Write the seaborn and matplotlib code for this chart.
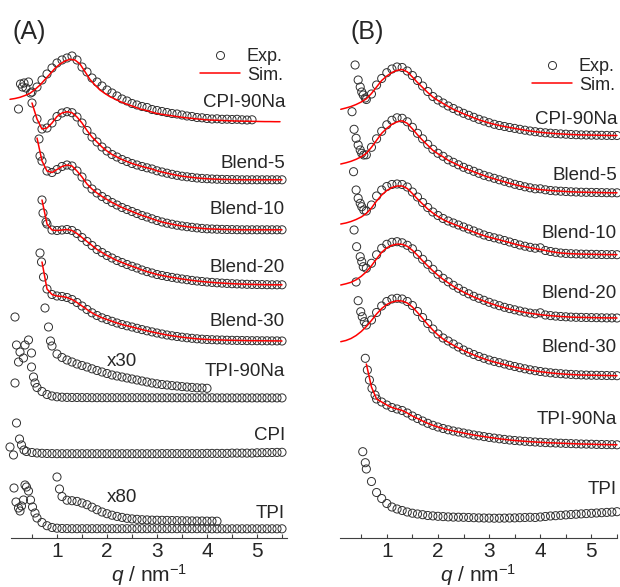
import numpy as np
import matplotlib
matplotlib.use("Agg")
import matplotlib.pyplot as plt
import seaborn as sns
from matplotlib.lines import Line2D
from matplotlib.ticker import MultipleLocator

# SAXS profiles, intensity in arbitrary units, stacked with vertical offsets.
# Tabulated points are spaced STEP apart in q, starting at the given q0.
STEP = 0.1

# ---------------- panel (A) ----------------
a_names = ["CPI-90Na", "Blend-5", "Blend-10", "Blend-20", "Blend-30", "TPI-90Na", "CPI", "TPI"]
a_offsets = [41.6, 35.8, 30.8, 25.3, 19.7, 14.0, 8.4, 0.9]
a_label_y = [43.55, 37.4, 32.8, 27.0, 21.7, 16.7, 10.3, 2.4]

a_cpi90na_q0 = 0.5
a_cpi90na = [3.0, 3.5, 4.2, 4.8, 5.4, 5.9, 6.2, 6.4, 6.6, 6.2, 5.5, 5.0, 4.4, 4.0, 3.6, 3.2,
             2.9, 2.6, 2.3, 2.1, 1.85, 1.7, 1.55, 1.45, 1.25, 1.15, 1.05, 0.95, 0.85, 0.8,
             0.7, 0.6, 0.55, 0.45, 0.42, 0.35, 0.3, 0.32, 0.27, 0.28, 0.25, 0.27, 0.22, 0.2, 0.22]
a_cpi90na_low_q = [0.23, 0.27, 0.31, 0.34, 0.38, 0.43, 0.47]
a_cpi90na_low_i = [1.3, 3.8, 3.5, 3.9, 3.4, 4.0, 2.9]
a_cpi90na_sim_q0 = 0.06
a_cpi90na_sim = [2.27, 2.35, 2.47, 2.65, 2.87, 3.25, 3.7, 4.25, 4.8, 5.37, 5.8, 6.1, 6.27, 6.2,
                 5.8, 5.03, 4.25, 3.7, 3.2, 2.85, 2.53, 2.3, 2.05, 1.85, 1.67, 1.5, 1.3, 1.2,
                 1.05, 0.9, 0.8, 0.72, 0.65, 0.57, 0.5, 0.43, 0.38, 0.33, 0.28, 0.23, 0.2, 0.18,
                 0.16, 0.14, 0.12, 0.1, 0.09, 0.08, 0.07, 0.06, 0.05, 0.04, 0.04, 0.03, 0.03]

a_blend5_q0 = 0.5
a_blend5 = [7.7, 6.1, 5.1, 5.2, 5.7, 6.35, 6.7, 6.83, 6.73, 6.3, 5.7, 4.95, 4.3, 3.8, 3.3, 2.9,
            2.55, 2.3, 2.05, 1.85, 1.65, 1.5, 1.35, 1.22, 1.1, 0.92, 0.8, 0.68, 0.57, 0.47,
            0.38, 0.32, 0.26, 0.2, 0.16, 0.13, 0.1, 0.08, 0.06, 0.05, 0.04, 0.03, 0.02, 0.02,
            0.02, 0.02, 0.02, 0.02, 0.02, 0.02, 0.02]
a_blend5_sim_q0 = 0.5
a_blend5_sim = [7.7, 6.1, 5.1, 5.2, 5.7, 6.35, 6.7, 6.83, 6.73, 6.3, 5.7, 4.95, 4.3, 3.8, 3.3, 2.9,
                2.55, 2.3, 2.05, 1.85, 1.65, 1.5, 1.35, 1.22, 1.1, 0.92, 0.8, 0.68, 0.57, 0.47,
                0.38, 0.32, 0.26, 0.2, 0.16, 0.13, 0.1, 0.08, 0.06, 0.05, 0.04, 0.03, 0.02, 0.02,
                0.02, 0.02, 0.02, 0.02, 0.02, 0.02, 0.02]

a_blend10_q0 = 0.7
a_blend10 = [6.9, 5.9, 5.75, 6.05, 6.35, 6.5, 6.4, 5.9, 5.3, 4.6, 4.1, 3.7, 3.35, 3.05, 2.75,
             2.5, 2.25, 2.05, 1.85, 1.65, 1.45, 1.3, 1.12, 0.95, 0.8, 0.68, 0.58, 0.48, 0.4,
             0.33, 0.27, 0.21, 0.16, 0.12, 0.1, 0.08, 0.06, 0.05, 0.04, 0.03, 0.02, 0.02, 0.02,
             0.02, 0.02, 0.02, 0.02, 0.02, 0.02]
a_blend10_low_q = [0.64, 0.66]
a_blend10_low_i = [9.1, 7.4]
a_blend10_sim_q0 = 0.6
a_blend10_sim = [9.2, 6.9, 5.9, 5.75, 6.05, 6.35, 6.5, 6.4, 5.9, 5.3, 4.6, 4.1, 3.7, 3.35, 3.05,
                 2.75, 2.5, 2.25, 2.05, 1.85, 1.65, 1.45, 1.3, 1.12, 0.95, 0.8, 0.68, 0.58, 0.48,
                 0.4, 0.33, 0.27, 0.21, 0.16, 0.12, 0.1, 0.08, 0.06, 0.05, 0.04, 0.03, 0.02,
                 0.02, 0.02, 0.02, 0.02, 0.02, 0.02, 0.02, 0.02]

a_blend20_q0 = 0.7
a_blend20 = [8.5, 6.1, 5.5, 5.45, 5.5, 5.55, 5.45, 5.15, 4.75, 4.35, 3.95, 3.55, 3.25, 2.95,
             2.7, 2.45, 2.25, 2.05, 1.87, 1.7, 1.5, 1.34, 1.2, 1.05, 0.95, 0.85, 0.76, 0.68,
             0.6, 0.53, 0.46, 0.4, 0.35, 0.3, 0.26, 0.22, 0.19, 0.16, 0.13, 0.11, 0.09, 0.07,
             0.06, 0.05, 0.04, 0.03, 0.02, 0.02, 0.02]
a_blend20_low_q = [0.72, 0.78]
a_blend20_low_i = [7.2, 6.3]
a_blend20_sim_q0 = 0.7
a_blend20_sim = [8.5, 6.1, 5.5, 5.45, 5.5, 5.55, 5.45, 5.15, 4.75, 4.35, 3.95, 3.55, 3.25, 2.95,
                 2.7, 2.45, 2.25, 2.05, 1.87, 1.7, 1.5, 1.34, 1.2, 1.05, 0.95, 0.85, 0.76, 0.68,
                 0.6, 0.53, 0.46, 0.4, 0.35, 0.3, 0.26, 0.22, 0.19, 0.16, 0.13, 0.11, 0.09, 0.07,
                 0.06, 0.05, 0.04, 0.03, 0.02, 0.02, 0.02]

a_blend30_q0 = 0.8
a_blend30 = [5.2, 4.65, 4.5, 4.45, 4.35, 4.15, 3.85, 3.5, 3.15, 2.82, 2.55, 2.32, 2.15, 1.97, 1.8,
             1.65, 1.52, 1.4, 1.27, 1.14, 1.02, 0.91, 0.8, 0.7, 0.6, 0.52, 0.45, 0.38, 0.32,
             0.27, 0.22, 0.18, 0.15, 0.13, 0.11, 0.1, 0.08, 0.07, 0.06, 0.05, 0.04, 0.03, 0.03,
             0.02, 0.02, 0.01, 0.01, 0.0]
a_blend30_low_q = [0.66, 0.69, 0.73]
a_blend30_low_i = [8.8, 7.9, 6.4]
a_blend30_sim_q0 = 0.7
a_blend30_sim = [7.9, 5.2, 4.65, 4.5, 4.45, 4.35, 4.15, 3.85, 3.5, 3.15, 2.82, 2.55, 2.32, 2.15,
                 1.97, 1.8, 1.65, 1.52, 1.4, 1.27, 1.14, 1.02, 0.91, 0.8, 0.7, 0.6, 0.52, 0.45,
                 0.38, 0.32, 0.27, 0.22, 0.18, 0.15, 0.13, 0.11, 0.1, 0.08, 0.07, 0.06, 0.05,
                 0.04, 0.03, 0.03, 0.02, 0.02, 0.01, 0.01, 0.0]

a_tpi90na_q0 = 0.6
a_tpi90na = [1.05, 0.65, 0.35, 0.2, 0.12, 0.08, 0.06, 0.05, 0.05, 0.04, 0.04, 0.03, 0.03, 0.03,
             0.03, 0.03, 0.03, 0.03, 0.03, 0.03, 0.03, 0.03, 0.02, 0.02, 0.02, 0.02, 0.02, 0.02,
             0.02, 0.02, 0.02, 0.02, 0.02, 0.02, 0.02, 0.02, 0.01, 0.01, 0.01, 0.01, 0.01, 0.01,
             0.01, 0.01, 0.01, 0.01, 0.01, 0.01, 0.01, 0.01]
a_tpi90na_low_q = [0.16, 0.19, 0.23, 0.26, 0.33, 0.36, 0.43, 0.49, 0.49, 0.16, 0.53, 0.56]
a_tpi90na_low_i = [8.1, 5.3, 3.6, 4.6, 4.0, 5.3, 5.8, 4.5, 3.1, 1.5, 2.1, 1.5]
# TPI-90Na multiplied by 30
a_tpi90na_x30_q0 = 0.9
a_tpi90na_x30 = [5.2, 4.4, 4.05, 3.8, 3.6, 3.4, 3.25, 3.1, 2.92, 2.75, 2.6, 2.45, 2.3, 2.2, 2.1,
                 2.0, 1.9, 1.8, 1.7, 1.6, 1.5, 1.42, 1.35, 1.3, 1.24, 1.2, 1.14, 1.1, 1.06, 1.02,
                 1.0, 0.97]
a_tpi90na_x30_low_q = [0.76, 0.83, 0.87]
a_tpi90na_x30_low_i = [9.0, 7.1, 5.7]

a_cpi_q0 = 0.5
a_cpi = [0.15, 0.1, 0.07, 0.05, 0.04, 0.03, 0.03, 0.03, 0.03, 0.03, 0.03, 0.03, 0.03, 0.03, 0.03,
         0.03, 0.03, 0.03, 0.03, 0.03, 0.03, 0.03, 0.03, 0.03, 0.03, 0.03, 0.04, 0.04, 0.04,
         0.04, 0.04, 0.04, 0.04, 0.04, 0.04, 0.06, 0.06, 0.06, 0.06, 0.06, 0.09, 0.09, 0.09,
         0.09, 0.09, 0.12, 0.13, 0.14, 0.15, 0.16, 0.17]
a_cpi_low_q = [0.06, 0.13, 0.19, 0.25, 0.29, 0.34, 0.39]
a_cpi_low_i = [0.7, -0.1, 3.1, 1.5, 0.9, 0.4, 0.25]

a_tpi_q0 = 0.6
a_tpi = [1.1, 0.65, 0.33, 0.15, 0.08, 0.05, 0.04, 0.03, 0.03, 0.03, 0.03, 0.03, 0.03, 0.03, 0.03,
         0.03, 0.03, 0.03, 0.03, 0.03, 0.03, 0.03, 0.03, 0.03, 0.03, 0.03, 0.03, 0.03, 0.03,
         0.03, 0.03, 0.03, 0.03, 0.03, 0.02, 0.02, 0.02, 0.02, 0.02, 0.02, 0.02, 0.02, 0.02,
         0.02, 0.02, 0.02, 0.02, 0.02, 0.02, 0.02]
a_tpi_low_q = [0.14, 0.18, 0.23, 0.26, 0.29, 0.33, 0.36, 0.39, 0.43, 0.47, 0.51, 0.56]
a_tpi_low_i = [4.1, 2.7, 2.1, 1.8, 2.3, 2.9, 4.4, 4.2, 3.8, 2.9, 2.2, 1.6]
# TPI multiplied by 80
a_tpi_x80_q0 = 1.0
a_tpi_x80 = [5.2, 3.25, 2.88, 2.83, 2.76, 2.6, 2.43, 2.18, 1.93, 1.7, 1.53, 1.38, 1.26, 1.16,
             1.07, 1.01, 0.97, 0.93, 0.91, 0.89, 0.88, 0.87, 0.86, 0.85, 0.84, 0.83, 0.82, 0.81,
             0.8, 0.8, 0.79, 0.79, 0.78]
a_tpi_x80_low_q = [1.05]
a_tpi_x80_low_i = [4.0]

# ---------------- panel (B) ----------------
b_names = ["CPI-90Na", "Blend-5", "Blend-10", "Blend-20", "Blend-30", "TPI-90Na", "TPI"]
b_offsets = [40.2, 34.47, 28.3, 21.97, 16.2, 9.3, 1.95]
b_label_y = [41.8, 36.3, 30.5, 24.5, 19.1, 11.8, 4.8]

b_cpi90na_q0 = 0.6
b_cpi90na = [3.65, 4.2, 5.1, 5.75, 6.33, 6.7, 6.9, 6.85, 6.5, 6.05, 5.55, 5.0, 4.45, 3.95, 3.6,
             3.3, 3.0, 2.75, 2.5, 2.27, 2.07, 1.87, 1.67, 1.5, 1.33, 1.17, 1.05, 0.95, 0.85,
             0.76, 0.67, 0.58, 0.5, 0.43, 0.37, 0.32, 0.28, 0.24, 0.21, 0.18, 0.15, 0.13, 0.11,
             0.1, 0.09, 0.08, 0.07, 0.06, 0.05, 0.05]
b_cpi90na_low_q = [0.38, 0.44, 0.48, 0.51, 0.54, 0.58]
b_cpi90na_low_i = [7.1, 5.6, 4.9, 4.4, 4.1, 3.8]
b_cpi90na_sim_q0 = 0.1
b_cpi90na_sim = [2.67, 2.8, 2.95, 3.15, 3.4, 3.72, 4.25, 4.9, 5.55, 6.0, 6.35, 6.57, 6.65, 6.42,
                 5.9, 5.35, 4.85, 4.35, 3.9, 3.55, 3.25, 2.95, 2.67, 2.45, 2.22, 2.02, 1.82,
                 1.62, 1.46, 1.3, 1.17, 1.05, 0.95, 0.85, 0.76, 0.67, 0.58, 0.5, 0.43, 0.37, 0.32,
                 0.28, 0.24, 0.21, 0.18, 0.15, 0.13, 0.11, 0.1, 0.09, 0.08, 0.07, 0.06, 0.05, 0.05]

b_blend5_q0 = 0.6
b_blend5 = [3.85, 4.6, 5.45, 6.2, 6.85, 7.3, 7.55, 7.5, 7.15, 6.6, 6.0, 5.45, 4.9, 4.4, 4.0, 3.7,
            3.35, 3.1, 2.85, 2.6, 2.4, 2.2, 2.0, 1.8, 1.65, 1.5, 1.35, 1.2, 1.05, 0.9, 0.78, 0.65,
            0.55, 0.45, 0.45, 0.35, 0.28, 0.24, 0.21, 0.18, 0.15, 0.13, 0.11, 0.1, 0.09, 0.08,
            0.07, 0.06, 0.05, 0.05]
b_blend5_low_q = [0.32, 0.36, 0.40, 0.44, 0.48, 0.51, 0.55]
b_blend5_low_i = [8.16, 6.4, 5.5, 4.83, 4.33, 4.0, 3.83]
b_blend5_sim_q0 = 0.1
b_blend5_sim = [2.93, 3.05, 3.2, 3.4, 3.65, 4.0, 4.6, 5.3, 6.0, 6.5, 6.9, 7.15, 7.25, 7.0, 6.45,
                5.85, 5.3, 4.8, 4.3, 3.95, 3.65, 3.3, 3.05, 2.8, 2.55, 2.35, 2.15, 1.95, 1.77, 1.6,
                1.45, 1.3, 1.15, 1.0, 0.87, 0.75, 0.63, 0.53, 0.44, 0.37, 0.32, 0.28, 0.24, 0.21,
                0.18, 0.15, 0.13, 0.11, 0.1, 0.09, 0.08, 0.07, 0.06, 0.05, 0.05]

b_blend10_q0 = 0.6
b_blend10 = [4.4, 5.0, 5.9, 6.5, 6.85, 7.05, 7.1, 7.05, 6.8, 6.3, 5.8, 5.25, 4.75, 4.3, 3.95, 3.65,
             3.4, 3.2, 3.0, 2.8, 2.6, 2.4, 2.2, 2.0, 1.85, 1.72, 1.6, 1.45, 1.3, 1.15, 1.0, 0.88,
             0.77, 0.68, 0.72, 0.45, 0.35, 0.27, 0.2, 0.16, 0.13, 0.11, 0.09, 0.08, 0.07, 0.06,
             0.05, 0.04, 0.04, 0.03]
b_blend10_low_q = [0.35, 0.40, 0.44, 0.48, 0.51, 0.55]
b_blend10_low_i = [8.33, 6.5, 5.67, 5.17, 4.83, 4.5]
b_blend10_sim_q0 = 0.1
b_blend10_sim = [3.1, 3.2, 3.35, 3.55, 3.8, 4.15, 4.7, 5.4, 6.0, 6.45, 6.75, 6.9, 6.9, 6.65, 6.15,
                 5.6, 5.1, 4.6, 4.2, 3.85, 3.55, 3.3, 3.1, 2.9, 2.7, 2.5, 2.3, 2.1, 1.93, 1.78,
                 1.65, 1.52, 1.38, 1.24, 1.1, 0.97, 0.85, 0.74, 0.64, 0.55, 0.45, 0.35, 0.27, 0.2,
                 0.16, 0.13, 0.11, 0.09, 0.08, 0.07, 0.06, 0.05, 0.04, 0.04, 0.03]

b_blend20_q0 = 0.6
b_blend20 = [5.0, 5.5, 6.35, 7.0, 7.4, 7.6, 7.66, 7.55, 7.3, 6.95, 6.4, 5.9, 5.4, 4.9, 4.4, 4.0,
             3.65, 3.3, 3.0, 2.7, 2.45, 2.2, 2.0, 1.8, 1.6, 1.42, 1.26, 1.1, 0.97, 0.85, 0.73,
             0.62, 0.52, 0.45, 0.55, 0.33, 0.27, 0.22, 0.18, 0.15, 0.12, 0.1, 0.09, 0.08, 0.07,
             0.06, 0.05, 0.04, 0.04, 0.03]
b_blend20_low_q = [0.36, 0.41, 0.48, 0.51, 0.54]
b_blend20_low_i = [8.83, 7.16, 6.16, 5.66, 5.16]
b_blend20_sim_q0 = 0.1
b_blend20_sim = [3.33, 3.45, 3.6, 3.85, 4.2, 4.65, 5.25, 5.95, 6.6, 7.05, 7.3, 7.42, 7.4, 7.2, 6.8,
                 6.3, 5.75, 5.25, 4.75, 4.3, 3.9, 3.55, 3.2, 2.9, 2.62, 2.37, 2.13, 1.92, 1.72,
                 1.53, 1.36, 1.2, 1.05, 0.92, 0.8, 0.69, 0.59, 0.5, 0.43, 0.36, 0.31, 0.26, 0.22,
                 0.18, 0.15, 0.12, 0.1, 0.09, 0.08, 0.07, 0.06, 0.05, 0.04, 0.04, 0.03]

b_blend30_q0 = 0.6
b_blend30 = [5.1, 5.6, 6.35, 7.0, 7.45, 7.7, 7.77, 7.7, 7.45, 7.05, 6.45, 5.85, 5.25, 4.7, 4.2,
             3.8, 3.5, 3.2, 2.9, 2.6, 2.37, 2.15, 1.95, 1.77, 1.6, 1.46, 1.33, 1.2, 1.07, 0.95,
             0.83, 0.72, 0.62, 0.53, 0.45, 0.38, 0.32, 0.27, 0.23, 0.19, 0.16, 0.13, 0.11, 0.09,
             0.08, 0.07, 0.06, 0.05, 0.04, 0.03]
b_blend30_low_q = [0.40, 0.44, 0.49, 0.52, 0.56]
b_blend30_low_i = [9.4, 7.53, 6.43, 5.93, 5.43]
b_blend30_sim_q0 = 0.1
b_blend30_sim = [3.43, 3.55, 3.75, 4.05, 4.45, 4.95, 5.55, 6.2, 6.75, 7.15, 7.4, 7.52, 7.5, 7.3,
                 6.9, 6.35, 5.75, 5.15, 4.6, 4.1, 3.7, 3.38, 3.08, 2.8, 2.55, 2.32, 2.1, 1.9,
                 1.72, 1.55, 1.4, 1.27, 1.14, 1.02, 0.9, 0.79, 0.68, 0.59, 0.5, 0.43, 0.37, 0.31,
                 0.26, 0.22, 0.18, 0.15, 0.12, 0.1, 0.09, 0.08, 0.07, 0.06, 0.05, 0.04, 0.03]

b_tpi90na_q0 = 0.8
b_tpi90na = [4.6, 4.3, 4.0, 3.75, 3.6, 3.45, 3.2, 2.9, 2.65, 2.4, 2.17, 1.97, 1.8, 1.65, 1.52,
             1.4, 1.3, 1.2, 1.1, 1.0, 0.92, 0.84, 0.76, 0.69, 0.62, 0.56, 0.5, 0.45, 0.41, 0.37,
             0.33, 0.3, 0.27, 0.24, 0.22, 0.2, 0.18, 0.16, 0.14, 0.12, 0.1, 0.09, 0.08, 0.06,
             0.05, 0.04, 0.03, 0.02]
b_tpi90na_low_q = [0.58, 0.62, 0.66, 0.71, 0.77]
b_tpi90na_low_i = [8.67, 7.5, 6.5, 5.67, 5.0]
b_tpi90na_sim_q0 = 0.6
b_tpi90na_sim = [8.1, 5.8, 4.6, 4.3, 4.0, 3.75, 3.6, 3.45, 3.2, 2.9, 2.65, 2.4, 2.17, 1.97, 1.8,
                 1.65, 1.52, 1.4, 1.3, 1.2, 1.1, 1.0, 0.92, 0.84, 0.76, 0.69, 0.62, 0.56, 0.5,
                 0.45, 0.41, 0.37, 0.33, 0.3, 0.27, 0.24, 0.22, 0.2, 0.18, 0.16, 0.14, 0.12, 0.1,
                 0.09, 0.08, 0.06, 0.05, 0.04, 0.03, 0.02]

b_tpi_q0 = 0.6
b_tpi = [4.95, 3.7, 2.6, 2.0, 1.5, 1.15, 0.95, 0.8, 0.65, 0.53, 0.45, 0.38, 0.3, 0.26, 0.22, 0.19,
         0.16, 0.14, 0.13, 0.12, 0.1, 0.08, 0.06, 0.05, 0.04, 0.03, 0.03, 0.04, 0.05, 0.06, 0.08,
         0.1, 0.12, 0.1, 0.15, 0.2, 0.25, 0.28, 0.32, 0.36, 0.4, 0.43, 0.46, 0.49, 0.52, 0.55,
         0.58, 0.61, 0.64, 0.68]
b_tpi_low_q = [0.53, 0.58]
b_tpi_low_i = [6.68, 5.58]

# ---------------- styling ----------------
sns.set_style("white")
plt.rcParams["font.family"] = ["Liberation Sans", "DejaVu Sans"]
plt.rcParams["mathtext.fontset"] = "custom"
plt.rcParams["mathtext.rm"] = "Liberation Sans"
plt.rcParams["mathtext.it"] = "Liberation Sans:italic"

EXP_KW = dict(marker="o", s=34, facecolor="none", edgecolor="#303030", linewidth=0.7,
              clip_on=False, legend=False, zorder=2)
SIM_KW = dict(color="red", linewidth=1.1, sort=False, estimator=None, errorbar=None,
              clip_on=False, legend=False, zorder=3)


def on_grid(q0, vals):
    return q0 + STEP * np.arange(len(vals)), np.asarray(vals, dtype=float)


def draw_exp(ax, q0, vals, off, low_q=None, low_i=None):
    q, i = on_grid(q0, vals)
    if low_q is not None:
        q = np.concatenate([np.asarray(low_q), q])
        i = np.concatenate([np.asarray(low_i), i])
    sns.scatterplot(x=q, y=i + off, ax=ax, **EXP_KW)


def draw_sim(ax, q0, vals, off):
    q, i = on_grid(q0, vals)
    sns.lineplot(x=q, y=i + off, ax=ax, **SIM_KW)


def style_axis(ax, xmax, xmin):
    ax.set_xlim(xmin, xmax)
    ax.set_ylim(0, 53.8)
    sns.despine(ax=ax, left=True)
    ax.set_yticks([])
    ax.spines["bottom"].set_linewidth(0.8)
    ax.spines["bottom"].set_color("#404040")
    ax.xaxis.set_major_locator(MultipleLocator(1))
    ax.xaxis.set_minor_locator(MultipleLocator(0.5))
    ax.tick_params(axis="x", which="both", direction="in", length=3, width=0.8,
                   color="#404040", labelsize=15, pad=3, bottom=True)
    ax.set_xlabel(r"$q$ / nm$^{-1}$", fontsize=15, labelpad=1)


fig = plt.figure(figsize=(6.2, 5.87), dpi=100)
ax_a = fig.add_axes([11 / 620, 49 / 587, 276 / 620, 538 / 587])
ax_b = fig.add_axes([340 / 620, 49 / 587, 277 / 620, 538 / 587])

# ---- panel A ----
oa = dict(zip(a_names, a_offsets))
draw_exp(ax_a, a_cpi90na_q0, a_cpi90na, oa["CPI-90Na"], a_cpi90na_low_q, a_cpi90na_low_i)
draw_sim(ax_a, a_cpi90na_sim_q0, a_cpi90na_sim, oa["CPI-90Na"])
draw_exp(ax_a, a_blend5_q0, a_blend5, oa["Blend-5"])
draw_sim(ax_a, a_blend5_sim_q0, a_blend5_sim, oa["Blend-5"])
draw_exp(ax_a, a_blend10_q0, a_blend10, oa["Blend-10"], a_blend10_low_q, a_blend10_low_i)
draw_sim(ax_a, a_blend10_sim_q0, a_blend10_sim, oa["Blend-10"])
draw_exp(ax_a, a_blend20_q0, a_blend20, oa["Blend-20"], a_blend20_low_q, a_blend20_low_i)
draw_sim(ax_a, a_blend20_sim_q0, a_blend20_sim, oa["Blend-20"])
draw_exp(ax_a, a_blend30_q0, a_blend30, oa["Blend-30"], a_blend30_low_q, a_blend30_low_i)
draw_sim(ax_a, a_blend30_sim_q0, a_blend30_sim, oa["Blend-30"])
draw_exp(ax_a, a_tpi90na_q0, a_tpi90na, oa["TPI-90Na"], a_tpi90na_low_q, a_tpi90na_low_i)
draw_exp(ax_a, a_tpi90na_x30_q0, a_tpi90na_x30, oa["TPI-90Na"],
         a_tpi90na_x30_low_q, a_tpi90na_x30_low_i)
draw_exp(ax_a, a_cpi_q0, a_cpi, oa["CPI"], a_cpi_low_q, a_cpi_low_i)
draw_exp(ax_a, a_tpi_q0, a_tpi, oa["TPI"], a_tpi_low_q, a_tpi_low_i)
draw_exp(ax_a, a_tpi_x80_q0, a_tpi_x80, oa["TPI"], a_tpi_x80_low_q, a_tpi_x80_low_i)

for name, y in zip(a_names, a_label_y):
    ax_a.text(5.56, y, name, ha="right", va="center", fontsize=13.5)
ax_a.text(2.3, 17.7, "x30", ha="center", va="center", fontsize=13.5)
ax_a.text(2.3, 4.1, "x80", ha="center", va="center", fontsize=13.5)
style_axis(ax_a, 5.6, 0.08)

# ---- panel B ----
ob = dict(zip(b_names, b_offsets))
draw_exp(ax_b, b_cpi90na_q0, b_cpi90na, ob["CPI-90Na"], b_cpi90na_low_q, b_cpi90na_low_i)
draw_sim(ax_b, b_cpi90na_sim_q0, b_cpi90na_sim, ob["CPI-90Na"])
draw_exp(ax_b, b_blend5_q0, b_blend5, ob["Blend-5"], b_blend5_low_q, b_blend5_low_i)
draw_sim(ax_b, b_blend5_sim_q0, b_blend5_sim, ob["Blend-5"])
draw_exp(ax_b, b_blend10_q0, b_blend10, ob["Blend-10"], b_blend10_low_q, b_blend10_low_i)
draw_sim(ax_b, b_blend10_sim_q0, b_blend10_sim, ob["Blend-10"])
draw_exp(ax_b, b_blend20_q0, b_blend20, ob["Blend-20"], b_blend20_low_q, b_blend20_low_i)
draw_sim(ax_b, b_blend20_sim_q0, b_blend20_sim, ob["Blend-20"])
draw_exp(ax_b, b_blend30_q0, b_blend30, ob["Blend-30"], b_blend30_low_q, b_blend30_low_i)
draw_sim(ax_b, b_blend30_sim_q0, b_blend30_sim, ob["Blend-30"])
draw_exp(ax_b, b_tpi90na_q0, b_tpi90na, ob["TPI-90Na"], b_tpi90na_low_q, b_tpi90na_low_i)
draw_sim(ax_b, b_tpi90na_sim_q0, b_tpi90na_sim, ob["TPI-90Na"])
draw_exp(ax_b, b_tpi_q0, b_tpi, ob["TPI"], b_tpi_low_q, b_tpi_low_i)

for name, y in zip(b_names, b_label_y):
    ax_b.text(5.5, y, name, ha="right", va="center", fontsize=13.5)
style_axis(ax_b, 5.5, 0.085)

# panel tags and legends
fig.text(12 / 620, 1 - 32 / 587, "(A)", ha="left", va="center", fontsize=18)
fig.text(351 / 620, 1 - 32 / 587, "(B)", ha="left", va="center", fontsize=18)

handles = [Line2D([], [], ls="none", marker="o", ms=5.8, mfc="none", mec="#303030", mew=0.7),
           Line2D([], [], color="red", lw=1.1)]
for ax, anchor in ((ax_a, (283 / 620, 1 - 48 / 587)), (ax_b, (615 / 620, 1 - 58 / 587))):
    ax.legend(handles, ["Exp.", "Sim."], loc="upper right", bbox_to_anchor=anchor,
              bbox_transform=fig.transFigure, frameon=False, fontsize=13,
              handlelength=2.2, handletextpad=0.4, labelspacing=0.1, borderpad=0,
              borderaxespad=0, numpoints=1)

fig.savefig("out.png", dpi=100)
